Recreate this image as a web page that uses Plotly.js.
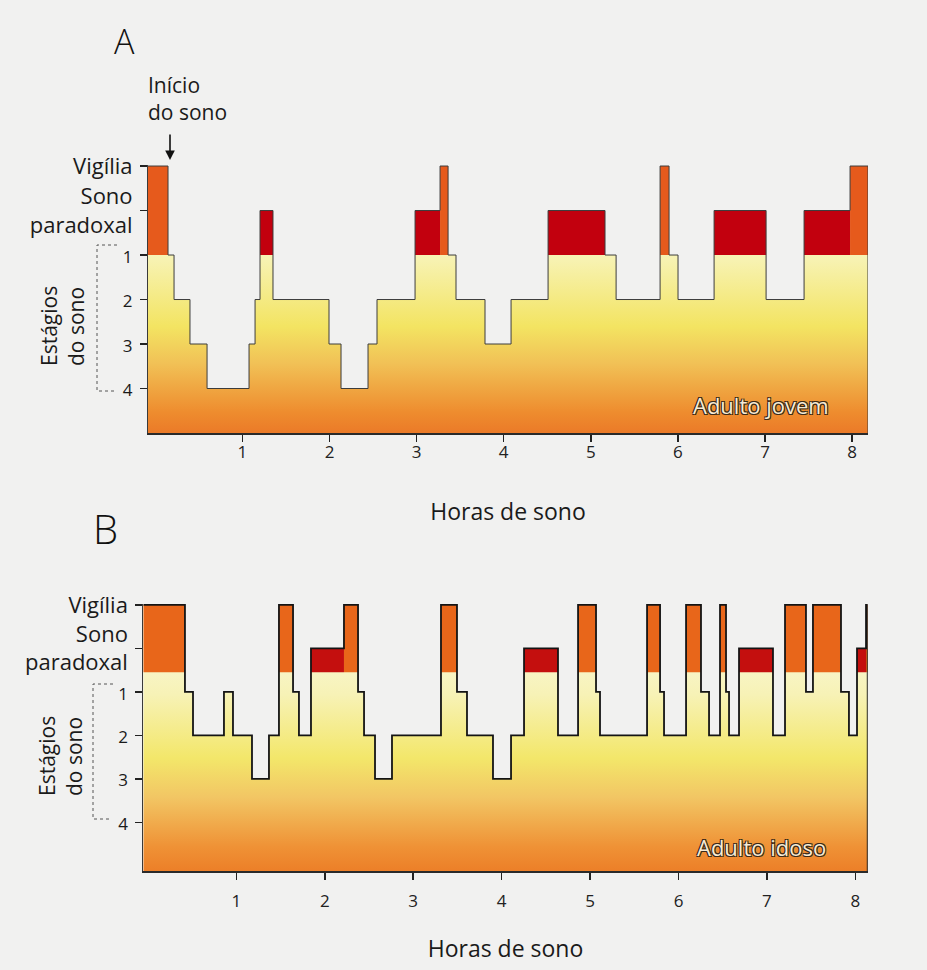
<!DOCTYPE html>
<html>
<head>
<meta charset="utf-8">
<script src="https://cdn.plot.ly/plotly-3.0.1.min.js"></script>
<style>html,body{margin:0;padding:0;background:#f1f1f0;}</style>
</head>
<body>
<div id="chart" style="width:927px;height:970px;"></div>
<script>
// ---------- DATA ----------
// Stage labels on the y axis (top to bottom)
const stageLabels = ['Vigília', 'Sono<br>paradoxal', '1', '2', '3', '4'];
const stageCodes  = ['W', 'R', '1', '2', '3', '4'];
const hourTicks   = [1, 2, 3, 4, 5, 6, 7, 8];

// Panel A – Adulto jovem: segment boundaries (hours) and stage of each segment
const boundsA = [-0.084, 0.146, 0.215, 0.398, 0.594, 1.076, 1.145, 1.202, 1.351, 1.994,
                 2.132, 2.442, 2.545, 2.982, 3.269, 3.361, 3.452, 3.785, 4.084, 4.509,
                 5.163, 5.290, 5.795, 5.898, 6.001, 6.415, 7.012, 7.448, 7.976, 8.182];
const stagesA = ['W','1','2','3','4','3','2','R','2','3',
                 '4','3','2','R','W','1','2','3','2','R',
                 '1','2','W','1','2','R','2','R','W'];

// Panel B – Adulto idoso
const boundsB = [-0.052, 0.419, 0.510, 0.860, 0.962, 1.177, 1.369, 1.482, 1.641, 1.708,
                 1.844, 2.217, 2.376, 2.444, 2.568, 2.760, 3.314, 3.495, 3.608, 3.902,
                 4.106, 4.253, 4.637, 4.864, 5.067, 5.112, 5.644, 5.791, 5.836, 6.085,
                 6.254, 6.345, 6.469, 6.537, 6.571, 6.684, 7.068, 7.204, 7.441, 7.520,
                 7.837, 7.927, 8.018, 8.120, 8.139];
const stagesB = ['W','1','2','1','2','3','2','W','1','2',
                 'R','W','1','2','3','2','W','1','2','3',
                 '2','R','2','W','1','2','W','1','2','W',
                 '1','2','W','1','2','R','2','W','1','W',
                 '1','2','R','W'];

// ---------- helpers ----------
const LEVEL = {W:6, R:5, '1':4, '2':3, '3':2, '4':1};

function stepXY(bounds, stages, ymin) {
  const x = [bounds[0]], y = [ymin];
  stages.forEach((s, i) => {
    x.push(bounds[i], bounds[i + 1]);
    y.push(LEVEL[s], LEVEL[s]);
  });
  x.push(bounds[bounds.length - 1]);
  y.push(ymin);
  return {x, y};
}
function blocks(bounds, stages, code, base) {
  const x = [], y = [];
  stages.forEach((s, i) => {
    if (s === code) {
      const a = bounds[i], b = bounds[i + 1], t = LEVEL[s];
      x.push(a, a, b, b, a, null);
      y.push(base, t, t, base, base, null);
    }
  });
  return {x, y};
}

const gradA = [[0,'#eb7a28'],[0.1,'#ee8c2e'],[0.34,'#f1c156'],[0.52,'#f3e462'],[0.84,'#f7f2b0'],[1,'#f8f5c6']];
const gradB = [[0,'#ec7f28'],[0.12,'#ef9236'],[0.36,'#f2c664'],[0.55,'#f3e76a'],[0.86,'#f7f2b6'],[1,'#f8f5c8']];

function panel(bounds, stages, xa, ya, ymin, base, grad, lineW, lineC, wakeC, remC) {
  const st = stepXY(bounds, stages, ymin);
  const w = blocks(bounds, stages, 'W', base);
  const r = blocks(bounds, stages, 'R', base);
  return [
    {x: st.x, y: st.y, xaxis: xa, yaxis: ya, type: 'scatter', mode: 'lines',
     line: {width: 0, color: 'rgba(0,0,0,0)'}, fill: 'toself',
     fillgradient: {type: 'vertical', start: ymin, stop: 4.6, colorscale: grad},
     hoverinfo: 'skip'},
    {x: w.x, y: w.y, xaxis: xa, yaxis: ya, type: 'scatter', mode: 'lines',
     line: {width: 0}, fill: 'toself', fillcolor: wakeC, hoverinfo: 'skip'},
    {x: r.x, y: r.y, xaxis: xa, yaxis: ya, type: 'scatter', mode: 'lines',
     line: {width: 0}, fill: 'toself', fillcolor: remC, hoverinfo: 'skip'},
    {x: st.x.slice(1), y: st.y.slice(1), xaxis: xa, yaxis: ya, type: 'scatter', mode: 'lines',
     line: {width: lineW, color: lineC, shape: 'linear'}, hoverinfo: 'skip'}
  ];
}

const data = [
  ...panel(boundsA, stagesA, 'x', 'y', 0, 4, gradA, 1, '#3c3c3c', '#e65a1c', '#c2000e'),
  ...panel(boundsB, stagesB, 'x2', 'y2', -0.12, 4.45, gradB, 1.8, '#141414', '#e8661a', '#c40f0e')
];

const W = 927, H = 970;
const px = v => v / W, py = v => 1 - v / H;
const FONT = 'Open Sans, Lato, Noto Sans, sans-serif';

const yTickText = stageLabels.map(l => /^\d$/.test(l) ? '<span style="font-size:17px">' + l + '</span>' : l);

function xAxis(domain, range, standoff, titleStandoff) {
  return {domain, range, tickvals: hourTicks, ticktext: hourTicks.map(String),
    ticks: 'outside', ticklen: 7, tickwidth: 1.5, tickcolor: '#222',
    showline: true, linecolor: '#2a2a2a', linewidth: 1.5, mirror: false,
    showgrid: false, zeroline: false, fixedrange: true, automargin: false,
    tickfont: {size: 17, family: FONT, color: '#222'}, ticklabelstandoff: standoff,
    title: {text: 'Horas de sono', font: {size: 23, family: FONT, color: '#1a1a1a'}, standoff: titleStandoff}};
}
function yAxis(domain, range, anchor) {
  return {domain, range, anchor, tickvals: stageCodes.map(c => LEVEL[c]), ticktext: yTickText,
    ticks: 'outside', ticklen: 7, tickwidth: 1.5, tickcolor: '#222',
    showline: true, linecolor: '#3a3a3a', linewidth: 1,
    showgrid: false, zeroline: false, fixedrange: true, automargin: false,
    tickfont: {size: 22, family: FONT, color: '#1a1a1a'}, ticklabelstandoff: 3};
}

const labelShadow = '1px 1px 0 #3a2a1a, -1px -1px 0 #3a2a1a, 1px -1px 0 #3a2a1a, -1px 1px 0 #3a2a1a';
function note(text, x, y, font, extra) {
  return Object.assign({text, xref: 'paper', yref: 'paper', x: px(x), y: py(y),
    xanchor: 'center', yanchor: 'middle', showarrow: false, font}, extra || {});
}

const layout = {
  width: W, height: H,
  margin: {l: 0, r: 0, t: 0, b: 0},
  paper_bgcolor: '#f1f1f0', plot_bgcolor: 'rgba(0,0,0,0)',
  showlegend: false,
  font: {family: FONT, color: '#1a1a1a'},
  xaxis:  Object.assign(xAxis([px(148), px(868)], [-0.084, 8.182], -4, 42), {anchor: 'y'}),
  yaxis:  yAxis([py(433), py(164.7)], [0, 6.03], 'x'),
  xaxis2: Object.assign(xAxis([px(143.3), px(867.7)], [-0.052, 8.139], 7, 30), {anchor: 'y2'}),
  yaxis2: yAxis([py(871), py(603.5)], [-0.12, 6.03], 'x2'),
  annotations: [
    note('A', 124, 41, {size: 34, family: FONT, weight: 300, color: '#111'}),
    note('B', 105, 528, {size: 40, family: FONT, weight: 300, color: '#111'}),
    note('Início<br>do sono', 146, 99, {size: 21, family: FONT, color: '#1a1a1a'},
         {xanchor: 'left', align: 'left'}),
    {text: '', xref: 'paper', yref: 'paper', x: px(170), y: py(160), ax: 0, ay: -27,
     showarrow: true, arrowhead: 2, arrowsize: 1.2, arrowwidth: 1.6, arrowcolor: '#111'},
    note('Estágios<br>do sono', 62, 326, {size: 21, family: FONT, color: '#1a1a1a'},
         {textangle: -90, align: 'left'}),
    note('Estágios<br>do sono', 60, 756, {size: 21, family: FONT, color: '#1a1a1a'},
         {textangle: -90, align: 'left'}),
    note('Adulto jovem', 761, 405, {size: 22, family: FONT, color: '#f7ecd6', shadow: labelShadow}),
    note('Adulto idoso', 761, 847, {size: 22, family: FONT, color: '#f7ecd6', shadow: labelShadow})
  ],
  shapes: [
    {type: 'path', xref: 'paper', yref: 'paper',
     path: `M ${px(117)},${py(245)} L ${px(97)},${py(245)} L ${px(97)},${py(391)} L ${px(117)},${py(391)}`,
     line: {color: '#555', width: 1, dash: 'dot'}},
    {type: 'path', xref: 'paper', yref: 'paper',
     path: `M ${px(113)},${py(684)} L ${px(93)},${py(684)} L ${px(93)},${py(819)} L ${px(110)},${py(819)}`,
     line: {color: '#555', width: 1, dash: 'dot'}}
  ]
};

Plotly.newPlot('chart', data, layout, {staticPlot: true, displayModeBar: false});
</script>
</body>
</html>
